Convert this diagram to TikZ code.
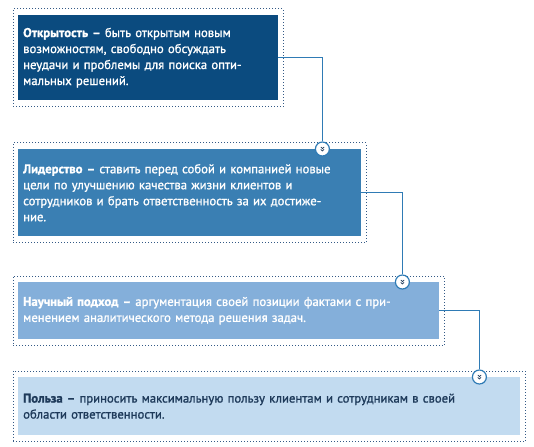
\documentclass[tikz,border=0pt]{standalone}
\usepackage{fontspec}
\setmainfont{PT Sans}[FakeBold=1.2]
\usepackage{tikz}
\usetikzlibrary{positioning,fit}

\definecolor{navy}{RGB}{11,75,127}
\definecolor{midblue}{RGB}{58,127,179}
\definecolor{skyblue}{RGB}{132,175,218}
\definecolor{paleblue}{RGB}{194,219,240}
\definecolor{dotblue}{RGB}{52,90,134}
\definecolor{linkblue}{RGB}{47,123,181}
\definecolor{inkblue}{RGB}{30,58,90}

\tikzset{
  card/.style={anchor=north west, inner xsep=5pt, inner ysep=0pt, align=left,
    font=\fontsize{12.7}{16}\selectfont, text=white},
  frame/.style={draw=dotblue, line width=1pt, dash pattern=on 1pt off 2pt,
    inner xsep=5pt, inner ysep=6pt},
  link/.style={draw=linkblue, line width=1pt},
  knob/.style={circle, draw=linkblue, fill=white, line width=1.2pt, minimum size=14pt,
    inner sep=0pt,
    path picture={
      \draw[inkblue, line width=0.7pt]
        ([shift={(-1.6,-2)}]path picture bounding box.center) -- ++(1.6,1.6) -- ++(1.6,-1.6)
        ([shift={(-1.6,0.4)}]path picture bounding box.center) -- ++(1.6,1.6) -- ++(1.6,-1.6);
    }}
}

\begin{document}
\begin{tikzpicture}[x=1pt,y=-1pt]
\useasboundingbox (0,0) rectangle (534,446);

% boxes
\node[card, fill=navy, minimum width=260pt, minimum height=85pt, text width=250pt] (b1) at (18,15)
  {\textbf{Открытость –} быть открытым новым\\ возможностям, свободно обсуждать\\ неудачи и проблемы для поиска опти-\\ мальных решений.};
\node[card, fill=midblue, minimum width=343pt, minimum height=87pt, text width=333pt] (b2) at (18,149)
  {\textbf{Лидерство –} ставить перед собой и компанией новые\\ цели по улучшению качества жизни клиентов и\\ сотрудников и брать ответственность за их достиже-\\ ние.};
\node[card, fill=skyblue, minimum width=421pt, minimum height=57pt, text width=411pt] (b3) at (18,282)
  {\textbf{Научный подход –} аргументация своей позиции фактами с при-\\ менением аналитического метода решения задач.};
\node[card, fill=paleblue, minimum width=502pt, minimum height=58pt, text width=492pt, text=inkblue] (b4) at (18,377)
  {\textbf{Польза –} приносить максимальную пользу клиентам и сотрудникам в своей\\ области ответственности.};

% dotted frames
\node[frame, fit=(b1)] (f1) {};
\node[frame, fit=(b2)] (f2) {};
\node[frame, fit=(b3)] (f3) {};
\node[frame, fit=(b4)] (f4) {};

% knobs
\node[knob] (c2) at ([xshift=-39pt]b2.north east) {};
\node[knob] (c3) at ([xshift=-37pt]b3.north east) {};
\node[knob] (c4) at ([xshift=-41pt]b4.north east) {};

% connectors
\draw[link] (b1.east) -| (c2);
\draw[link] (b2.east) -| (c3);
\draw[link] (b3.east) -| (c4);
\end{tikzpicture}
\end{document}
